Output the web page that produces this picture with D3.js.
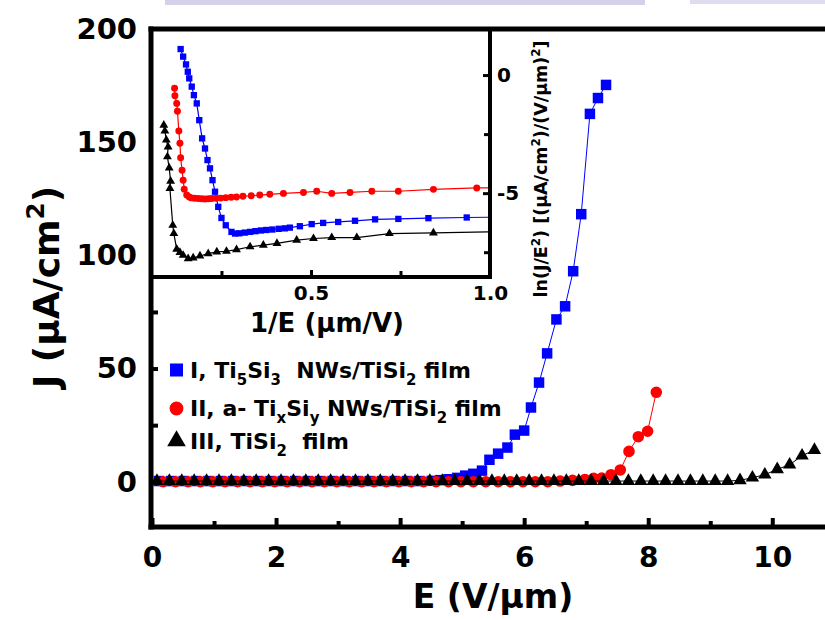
<!DOCTYPE html>
<html><head><meta charset="utf-8">
<script src="https://cdn.jsdelivr.net/npm/d3@7"></script>
<style>body{margin:0;background:#fff}svg{display:block}text{font-family:"DejaVu Sans",Verdana,sans-serif;font-weight:bold;fill:#000}</style>
</head><body><svg id="c" width="825" height="620"></svg>
<script>
// ---------- data ----------
const seriesNames = [
  [{t:"I, Ti"},{t:"5",sub:1},{t:"Si"},{t:"3",sub:1},{t:"  NWs/TiSi"},{t:"2",sub:1},{t:" film"}],
  [{t:"II, a- Ti"},{t:"x",sub:1},{t:"Si"},{t:"y",sub:1},{t:" NWs/TiSi"},{t:"2",sub:1},{t:" film"}],
  [{t:"III, TiSi"},{t:"2",sub:1},{t:"  film"}]
];
const seriesColors = ["#0000ff","#ff0000","#000000"];

// main plot: E (V/um) vs J (uA/cm2)
const blueE = [0.11,0.31,0.51,0.71,0.91,1.11,1.31,1.51,1.71,1.91,2.11,2.31,2.51,2.71,2.91,3.11,3.31,3.51,3.71,3.91,4.11,4.31,4.51,4.65,4.78,4.92,5.05,5.18,5.32,5.44,5.58,5.73,5.85,6.00,6.11,6.24,6.37,6.52,6.66,6.79,6.92,7.06,7.19,7.32];
const blueJ = [0.3,0.3,0.3,0.3,0.3,0.3,0.3,0.3,0.3,0.3,0.3,0.3,0.3,0.3,0.3,0.3,0.3,0.3,0.3,0.3,0.3,0.3,0.4,0.7,1.1,1.7,2.7,3.5,4.9,9.7,12.4,15.1,20.8,22.6,32.8,43.8,56.7,71.7,77.5,93.0,118.2,162.5,169.5,175.3];
const redE = [0.18,0.38,0.58,0.78,0.98,1.18,1.38,1.58,1.78,1.98,2.18,2.38,2.58,2.78,2.98,3.18,3.38,3.58,3.78,3.98,4.18,4.38,4.58,4.78,4.98,5.18,5.38,5.58,5.78,5.98,6.18,6.38,6.58,6.78,6.98,7.12,7.25,7.40,7.55,7.69,7.84,7.99,8.13];
const redJ = [0,0,0,0,0,0,0,0,0,0,0,0,0,0,0,0,0,0,0,0,0,0,0,0,0,0,0,0,0,0,0,0,0.3,0.6,1.0,1.5,1.6,3.1,5.2,13.4,19.9,22.3,39.5];
const blackE = [0.08,0.28,0.48,0.68,0.88,1.08,1.28,1.48,1.68,1.88,2.08,2.28,2.48,2.68,2.88,3.08,3.28,3.48,3.68,3.88,4.08,4.28,4.48,4.68,4.88,5.08,5.28,5.48,5.68,5.88,6.08,6.28,6.48,6.68,6.88,7.08,7.28,7.48,7.68,7.88,8.08,8.28,8.48,8.68,8.88,9.08,9.28,9.48,9.68,9.88,10.08,10.28,10.48,10.68];
const blackJ = [0.3,0.3,0.3,0.3,0.3,0.3,0.3,0.3,0.3,0.3,0.3,0.3,0.3,0.3,0.3,0.3,0.3,0.3,0.3,0.3,0.3,0.3,0.3,0.3,0.3,0.3,0.3,0.3,0.3,0.3,0.3,0.3,0.3,0.3,0.3,0.3,0.3,0.3,0.3,0.3,0.3,0.3,0.3,0.3,0.3,0.3,0.3,0.6,1.8,3.1,5.5,7.5,11.5,14.0];

// inset: 1/E (um/V) vs ln(J/E^2)
const blueInvE = [0.136,0.143,0.151,0.156,0.160,0.167,0.173,0.181,0.188,0.196,0.204,0.211,0.218,0.225,0.232,0.241,0.250,0.262,0.278,0.288,0.300,0.315,0.330,0.345,0.360,0.375,0.392,0.410,0.427,0.441,0.469,0.502,0.534,0.576,0.623,0.679,0.744,0.828,0.935,1.05];
const blueLn   = [1.10,0.78,0.45,0.14,-0.14,-0.49,-0.85,-1.20,-1.91,-2.68,-3.11,-3.60,-3.95,-4.45,-4.94,-5.58,-6.05,-6.36,-6.64,-6.71,-6.70,-6.67,-6.64,-6.61,-6.58,-6.56,-6.54,-6.51,-6.49,-6.46,-6.40,-6.31,-6.26,-6.22,-6.17,-6.11,-6.09,-6.06,-6.03,-6.01];
const redInvE = [0.119,0.120,0.125,0.127,0.131,0.134,0.136,0.140,0.143,0.146,0.153,0.160,0.166,0.175,0.185,0.195,0.204,0.214,0.223,0.235,0.248,0.262,0.277,0.292,0.310,0.333,0.357,0.385,0.423,0.479,0.516,0.558,0.609,0.670,0.744,0.842,0.963,1.10];
const redLn   = [-0.56,-0.88,-1.20,-1.53,-2.37,-2.89,-3.50,-4.03,-4.45,-4.83,-5.08,-5.16,-5.20,-5.22,-5.23,-5.24,-5.25,-5.24,-5.23,-5.22,-5.21,-5.19,-5.17,-5.16,-5.13,-5.11,-5.08,-5.05,-5.01,-4.97,-4.92,-5.01,-4.97,-4.92,-4.92,-4.84,-4.78,-4.75];
const blackInvE = [0.089,0.092,0.096,0.101,0.099,0.104,0.108,0.106,0.114,0.117,0.125,0.134,0.143,0.157,0.171,0.190,0.213,0.237,0.264,0.292,0.330,0.367,0.405,0.460,0.507,0.558,0.628,0.719,0.842,1.05];
const blackLn   = [-2.12,-2.37,-2.75,-3.04,-3.46,-3.93,-4.49,-4.80,-6.36,-6.71,-7.37,-7.51,-7.63,-7.77,-7.74,-7.66,-7.56,-7.49,-7.46,-7.39,-7.27,-7.20,-7.13,-6.99,-6.92,-6.88,-6.88,-6.71,-6.68,-6.63];

const xTicksMajor = [0,2,4,6,8,10];
const xTicksMinor = [1,3,5,7,9];
const yTicksMajor = [0,50,100,150,200];
const yTicksMinor = [25,75,125,175];
const insetXTicksMajor = [0.5,1.0];
const insetXTicksMinor = [0.25,0.75];
const insetYTicksMajor = [0,-5];
const insetYTicksMinor = [-2.5,-7.5];

// ---------- layout ----------
const svg = d3.select("#c");
const x = d3.scaleLinear().domain([0,10.85]).range([152,825]);
const y = d3.scaleLinear().domain([-20,200]).range([527,29]);
const ix = d3.scaleLinear().domain([0.056,1.0]).range([152,490]);
const iy = d3.scaleLinear().domain([-8.55,1.95]).range([277,29]);

// faint slide background strip at top
svg.append("rect").attr("x",165).attr("y",0).attr("width",480).attr("height",5).attr("fill","#d4d1e8");
svg.append("rect").attr("x",690).attr("y",0).attr("width",135).attr("height",4).attr("fill","#dedcee");

function rich(t, parts, size){
  let shift = 0;
  parts.forEach(p=>{
    const target = p.sub ? size*0.32 : p.sup ? -size*0.42 : 0;
    t.append("tspan").attr("dy", target-shift).attr("font-size", (p.sub||p.sup)? size*0.68 : size).text(p.t);
    shift = target;
  });
}

const shapes = [d3.symbolSquare, d3.symbolCircle, d3.symbolTriangle];

// ---------- main data ----------
const mainSeries = [
  {xs:blueE, ys:blueJ, size:110},
  {xs:redE, ys:redJ, size:105},
  {xs:blackE, ys:blackJ, size:78}
];
const gMain = svg.append("g");
mainSeries.forEach((s,i)=>{
  const pts = s.xs.map((v,k)=>[v,s.ys[k]]);
  gMain.append("path").datum(pts).attr("fill","none").attr("stroke",seriesColors[i]).attr("stroke-width",1)
    .attr("d", d3.line().x(d=>x(d[0])).y(d=>y(d[1])));
  gMain.selectAll(null).data(pts).join("path")
    .attr("transform", d=>`translate(${x(d[0])},${y(d[1])})`)
    .attr("d", d3.symbol().type(shapes[i]).size(s.size)).attr("fill",seriesColors[i]);
});

// ---------- main axes ----------
const xMin = svg.append("g").attr("transform","translate(0,527)")
  .call(d3.axisBottom(x).tickValues(xTicksMinor).tickSize(-6).tickFormat(""));
const xMaj = svg.append("g").attr("transform","translate(0,527)")
  .call(d3.axisBottom(x).tickValues(xTicksMajor).tickSize(-9).tickPadding(20).tickFormat(d3.format("d")));
const yMin = svg.append("g").attr("transform","translate(151,0)")
  .call(d3.axisLeft(y).tickValues(yTicksMinor).tickSize(-7).tickFormat(""));
const yMaj = svg.append("g").attr("transform","translate(151,0)")
  .call(d3.axisLeft(y).tickValues(yTicksMajor).tickSize(-7).tickPadding(14).tickFormat(d3.format("d")));
[xMin,xMaj,yMin,yMaj].forEach(g=>{
  g.select(".domain").remove();
  g.selectAll(".tick line").attr("stroke","#000").attr("stroke-width",4);
  g.selectAll(".tick text").attr("font-family","DejaVu Sans").attr("font-weight","bold").attr("fill","#000");
});
xMaj.selectAll(".tick text").attr("font-size",28);
yMaj.selectAll(".tick text").attr("font-size",29);

// ---------- inset ----------
svg.append("rect").attr("x",153).attr("y",31).attr("width",335).attr("height",244).attr("fill","#fff");
svg.append("clipPath").attr("id","ic").append("rect").attr("x",153).attr("y",31).attr("width",335).attr("height",244);
const gIn = svg.append("g").attr("clip-path","url(#ic)");
const insetSeries = [
  {xs:blueInvE, ys:blueLn, size:40},
  {xs:redInvE, ys:redLn, size:38},
  {xs:blackInvE, ys:blackLn, size:34}
];
insetSeries.forEach((s,i)=>{
  const pts = s.xs.map((v,k)=>[v,s.ys[k]]);
  gIn.append("path").datum(pts).attr("fill","none").attr("stroke",seriesColors[i]).attr("stroke-width",1.2)
    .attr("d", d3.line().x(d=>ix(d[0])).y(d=>iy(d[1])));
  gIn.selectAll(null).data(pts.filter(d=>d[0]<=1.0)).join("path")
    .attr("transform", d=>`translate(${ix(d[0])},${iy(d[1])})`)
    .attr("d", d3.symbol().type(shapes[i]).size(s.size)).attr("fill",seriesColors[i]);
});

const ixMin = svg.append("g").attr("transform","translate(0,277)")
  .call(d3.axisBottom(ix).tickValues(insetXTicksMinor).tickSize(-6).tickFormat(""));
const ixMaj = svg.append("g").attr("transform","translate(0,277)")
  .call(d3.axisBottom(ix).tickValues(insetXTicksMajor).tickSize(-7).tickPadding(9).tickFormat(d3.format(".1f")));
const iyMin = svg.append("g").attr("transform","translate(490,0)")
  .call(d3.axisRight(iy).tickValues(insetYTicksMinor).tickSize(-6).tickFormat(""));
const iyMaj = svg.append("g").attr("transform","translate(490,0)")
  .call(d3.axisRight(iy).tickValues(insetYTicksMajor).tickSize(-7).tickPadding(7).tickFormat(d=>d3.format("d")(d).replace("\u2212","-")));
[ixMin,ixMaj,iyMin,iyMaj].forEach(g=>{
  g.select(".domain").remove();
  g.selectAll(".tick line").attr("stroke","#000").attr("stroke-width",3);
  g.selectAll(".tick text").attr("font-family","DejaVu Sans").attr("font-weight","bold").attr("fill","#000").attr("font-size",20);
});

// frames
const frame = svg.append("g").attr("stroke","#000").attr("fill","none");
frame.append("line").attr("x1",148.5).attr("x2",825).attr("y1",29).attr("y2",29).attr("stroke-width",5);
frame.append("line").attr("x1",151).attr("x2",151).attr("y1",26.5).attr("y2",529.5).attr("stroke-width",5);
frame.append("line").attr("x1",148.5).attr("x2",825).attr("y1",527).attr("y2",527).attr("stroke-width",5);
frame.append("line").attr("x1",490).attr("x2",490).attr("y1",29).attr("y2",279).attr("stroke-width",4);
frame.append("line").attr("x1",151).attr("x2",492).attr("y1",277).attr("y2",277).attr("stroke-width",4);

// ---------- titles ----------
svg.append("text").attr("x",493).attr("y",608).attr("text-anchor","middle").attr("font-size",33).text("E (V/\u03bcm)");
rich(svg.append("text").attr("transform","translate(59,287) rotate(-90)").attr("text-anchor","middle"),
  [{t:"J (\u03bcA/cm"},{t:"2",sup:1},{t:")"}], 36);
svg.append("text").attr("x",327).attr("y",332).attr("text-anchor","middle").attr("font-size",26).text("1/E (\u03bcm/V)");
rich(svg.append("text").attr("transform","translate(547,169) rotate(-90)").attr("text-anchor","middle"),
  [{t:"ln(J/E"},{t:"2",sup:1},{t:") [(\u03bcA/cm"},{t:"2",sup:1},{t:")/(V/\u03bcm)"},{t:"2",sup:1},{t:"]"}], 17.5);

// ---------- legend ----------
const legY = [370, 408.5, 441];
const legSize = [169, 150, 150];
seriesNames.forEach((parts,i)=>{
  svg.append("path").attr("transform",`translate(176.5,${legY[i]})`)
    .attr("d", d3.symbol().type(shapes[i]).size(legSize[i])).attr("fill",seriesColors[i]);
  const t = svg.append("text").attr("x",190).attr("y",legY[i]+7.5).attr("font-size",22).style("white-space","pre");
  rich(t, parts, 22);
});
</script></body></html>
